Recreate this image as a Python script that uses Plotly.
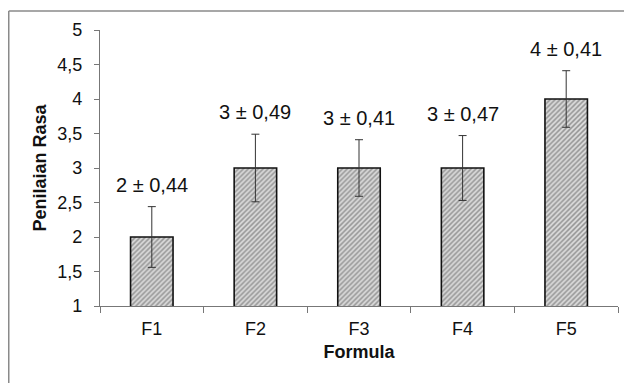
import plotly.graph_objects as go

categories = ["F1", "F2", "F3", "F4", "F5"]
values = [2, 3, 3, 3, 4]
errors = [0.44, 0.49, 0.41, 0.47, 0.41]
labels = ["2 ± 0,44", "3 ± 0,49", "3 ± 0,41", "3 ± 0,47", "4 ± 0,41"]
y_ticks = [1, 1.5, 2, 2.5, 3, 3.5, 4, 4.5, 5]
y_ticktext = ["1", "1,5", "2", "2,5", "3", "3,5", "4", "4,5", "5"]

FONT = "Arial, 'Liberation Sans', sans-serif"

fig = go.Figure()
fig.add_trace(go.Bar(
    x=categories, y=values,
    base=0,
    marker=dict(
        color="#c8c8c8",
        line=dict(color="#111111", width=1.6),
        pattern=dict(shape="/", fgcolor="#4a4a4a", bgcolor="#dcdcdc", size=3.5, solidity=0.45),
    ),
    error_y=dict(type="data", array=errors, visible=True, color="#333333", thickness=1, width=4),
    showlegend=False,
))

for c, v, e, t in zip(categories, values, errors, labels):
    fig.add_annotation(x=c, y=v + e, text=t, showarrow=False, yanchor="middle", yshift=22,
                       font=dict(family=FONT, size=20, color="#111111"))

# page has an 8px body margin
W, H = 624, 375
L, R, T, B = 92, 14, 22, 77
pw, ph = W - L - R, H - T - B
bx0 = (0.75 - L) / pw
by1 = (H - B - 3) / ph
border = dict(color="#8a8a8a", width=1.5)
# only the top and left edges of the outer chart frame are visible in the reference
fig.add_shape(type="line", xref="paper", yref="paper", x0=bx0, x1=(W + 20 - L) / pw,
              y0=by1, y1=by1, line=border, layer="below")
fig.add_shape(type="line", xref="paper", yref="paper", x0=bx0, x1=bx0,
              y0=by1, y1=(H - B - H - 20) / ph, line=border, layer="below")

fig.update_layout(
    width=W, height=H,
    margin=dict(l=L, r=R, t=T, b=B, autoexpand=False),
    paper_bgcolor="white", plot_bgcolor="white",
    bargap=0.59,
    font=dict(family=FONT, size=18, color="#111111"),
    xaxis=dict(
        automargin=False,
        showline=True, linecolor="#777777", linewidth=1.2,
        ticks="outside", tickson="boundaries", ticklen=6, tickcolor="#777777",
        showgrid=False, zeroline=False,
        ticklabelstandoff=6,
        title=dict(text="<b>Formula</b>", font=dict(family=FONT, size=18), standoff=7),
        tickfont=dict(family=FONT, size=18),
    ),
    yaxis=dict(
        automargin=False,
        range=[1, 5], tickvals=y_ticks, ticktext=y_ticktext,
        showline=True, linecolor="#777777", linewidth=1.2,
        ticks="outside", ticklen=5, tickcolor="#777777",
        showgrid=False, zeroline=False,
        ticklabelstandoff=8,
        title=dict(text="<b>Penilaian Rasa</b>", font=dict(family=FONT, size=18), standoff=5),
        tickfont=dict(family=FONT, size=18),
    ),
)

fig.write_html("out.html")
